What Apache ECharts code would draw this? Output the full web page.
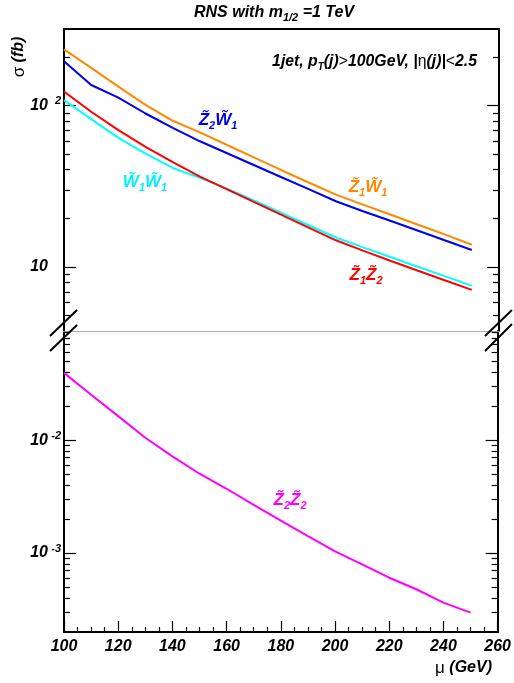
<!DOCTYPE html>
<html>
<head>
<meta charset="utf-8">
<script src="https://cdn.jsdelivr.net/npm/echarts@6/dist/echarts.min.js"></script>
<style>html,body{margin:0;padding:0;background:#fff;}#c{width:514px;height:683px;}</style>
</head>
<body>
<div id="c"></div>
<script>
// ---- data ----
const mu = [100,110,120,130,140,150,160,170,180,190,200,210,220,230,240,250];
const z1w1 = [223,171,131,101,80.4,68.2,56.9,47.5,39.7,33.3,28.0,24.3,21.1,18.3,15.9,13.7];
const z2w1 = [188,134,112,89.2,72.6,60,50.6,42.6,35.9,30.3,25.5,22.1,19.3,16.8,14.6,12.7];
const z1z2 = [122,91.4,70.3,55.4,44.6,36.2,30.2,25.2,21.0,17.5,14.6,12.6,10.9,9.48,8.26,7.19];
const w1w1 = [108,82.3,63,50.3,41,35.6,30.5,25.7,21.6,18.1,15.2,13.2,11.5,10.0,8.75,7.62];
const z2z2 = [0.0394,0.0252,0.0163,0.0105,0.00718,0.00504,0.00371,0.00267,0.00194,0.00141,0.001035,0.000794,0.000605,0.000478,0.000364,0.000297];
const xTicks = [100,120,140,160,180,200,220,240,260];
const topMajor = [10,100];
const topMinor = [5,6,7,8,9,20,30,40,50,60,70,80,90,200];
const botMajor = [0.001,0.01];
const botMinor = [0.0003,0.0004,0.0005,0.0006,0.0007,0.0008,0.0009,0.002,0.003,0.004,0.005,0.006,0.007,0.008,0.009,0.02,0.03,0.04,0.05,0.06,0.07,0.08,0.09];
const topRange = [4, 298];
const botRange = [0.0002, 0.0925];

const FONT = 'Liberation Sans';
const pairs = (ys) => mu.map((m,i) => [m, ys[i]]);

function yLabel(v){
  const e = Math.round(Math.log10(v));
  if (e === 1) return '{b|10}{p| }';
  return '{b|10}{p|' + e + '}';
}
const yRich = {
  b:{fontFamily:FONT,fontWeight:'bold',fontStyle:'italic',fontSize:16,lineHeight:20,color:'#000'},
  p:{fontFamily:FONT,fontWeight:'bold',fontStyle:'italic',fontSize:11,lineHeight:20,verticalAlign:'top',width:13,align:'right',color:'#000'}
};

function yAx(grid, pos, range, vals, len, line, labels){
  return {
    type:'log', gridIndex:grid, position:pos, min:range[0], max:range[1], logBase:10,
    axisLine:{show:line, onZero:false, lineStyle:{color:'#000',width:2}},
    axisTick:{show:true, inside:true, length:len, customValues:vals, lineStyle:{color:'#000',width:1.2}},
    minorTick:{show:false}, splitLine:{show:false}, minorSplitLine:{show:false},
    axisLabel: labels ? {show:true, customValues:vals, margin:3, formatter:yLabel, rich:yRich} : {show:false}
  };
}
function xFrame(grid, pos, color, width){
  return {type:'value', gridIndex:grid, position:pos, min:100, max:260,
    axisLine:{show:true,onZero:false,lineStyle:{color:color,width:width}},
    axisTick:{show:false}, axisLabel:{show:false}, splitLine:{show:false}};
}

const T = {fontFamily:FONT,fontWeight:'bold',fontStyle:'italic'};
function lab(text, x, y, color, size){
  return {type:'text', x:x, y:y, style:{text:text, align:'center', verticalAlign:'middle', fill:color,
    rich:{a:Object.assign({fontSize:size||17,fill:color,lineHeight:22},T),
          s:Object.assign({fontSize:11,fill:color,lineHeight:22,verticalAlign:'bottom'},T)}}};
}
function slash(x1,y1,x2,y2){
  return {type:'line', shape:{x1:x1,y1:y1,x2:x2,y2:y2}, style:{stroke:'#000',lineWidth:2}, z:100};
}

const chart = echarts.init(document.getElementById('c'), null, {renderer:'canvas'});
chart.setOption({
  animation:false,
  backgroundColor:'#fff',
  grid:[
    {left:64, width:435, top:29, height:302, show:false},
    {left:64, width:435, top:331, height:301, show:false}
  ],
  xAxis:[
    xFrame(0,'top','#000',2),
    xFrame(0,'bottom','#aaaaaa',1),
    xFrame(1,'top','#aaaaaa',1),
    {type:'value', gridIndex:1, position:'bottom', min:100, max:260, interval:20,
     axisLine:{show:true,onZero:false,lineStyle:{color:'#000',width:2}},
     axisTick:{show:true,inside:true,length:11,lineStyle:{color:'#000',width:1.2}},
     minorTick:{show:true,splitNumber:4,length:5,lineStyle:{color:'#000',width:1.2}},
     splitLine:{show:false},
     axisLabel:{show:true,margin:7,color:'#000',fontFamily:FONT,fontWeight:'bold',fontStyle:'italic',fontSize:16,
       customValues:xTicks}}
  ],
  yAxis:[
    yAx(0,'left',topRange,topMajor,12,true,true),
    yAx(0,'left',topRange,topMinor,6,false,false),
    yAx(0,'right',topRange,topMajor,12,true,false),
    yAx(0,'right',topRange,topMinor,6,false,false),
    yAx(1,'left',botRange,botMajor,12,true,true),
    yAx(1,'left',botRange,botMinor,6,false,false),
    yAx(1,'right',botRange,botMajor,12,true,false),
    yAx(1,'right',botRange,botMinor,6,false,false)
  ],
  series:[
    {type:'line', name:'z1w1', xAxisIndex:0, yAxisIndex:0, data:pairs(z1w1), symbol:'none', lineStyle:{color:'#ff8800',width:2}},
    {type:'line', name:'z2w1', xAxisIndex:0, yAxisIndex:0, data:pairs(z2w1), symbol:'none', lineStyle:{color:'#0000f0',width:2}},
    {type:'line', name:'w1w1', xAxisIndex:0, yAxisIndex:0, data:pairs(w1w1), symbol:'none', lineStyle:{color:'#00ffff',width:2}},
    {type:'line', name:'z1z2', xAxisIndex:0, yAxisIndex:0, data:pairs(z1z2), symbol:'none', lineStyle:{color:'#ff0000',width:2}},
    {type:'line', name:'z2z2', xAxisIndex:3, yAxisIndex:4, data:pairs(z2z2), symbol:'none', lineStyle:{color:'#ff00ff',width:2}}
  ],
  graphic:[
    {type:'text', x:194, y:13, style:{text:'{a|RNS with m}{s|1/2}{a| =1 TeV}', align:'left', verticalAlign:'middle',
      rich:{a:Object.assign({fontSize:16,fill:'#000',lineHeight:20},T), s:Object.assign({fontSize:11,fill:'#000',lineHeight:20,verticalAlign:'bottom'},T)}}},
    {type:'text', x:19, y:57, rotation:Math.PI/2, style:{text:'{g|σ}{a| (fb)}', align:'center', verticalAlign:'middle',
      rich:{g:{fontFamily:FONT,fontSize:17,fill:'#000'}, a:Object.assign({fontSize:16,fill:'#000'},T)}}},
    {type:'text', x:492, y:668, style:{text:'{g|μ}{a| (GeV)}', align:'right', verticalAlign:'middle',
      rich:{g:{fontFamily:FONT,fontSize:17,fill:'#000'}, a:Object.assign({fontSize:16,fill:'#000'},T)}}},
    {type:'text', x:477, y:62, style:{text:'{a|1jet, p}{s|T}{a|(j)}{g|>}{a|100GeV, |}{g|η}{a|(j)|}{g|<}{a|2.5}', align:'right', verticalAlign:'middle',
      rich:{a:Object.assign({fontSize:15.8,fill:'#000',lineHeight:20},T), s:Object.assign({fontSize:10,fill:'#000',lineHeight:20,verticalAlign:'bottom'},T),
            g:{fontFamily:FONT,fontSize:15.8,fill:'#000',lineHeight:20}}}},
    lab('{a|Z\u0303}{s|2}{a|W\u0303}{s|1}', 218, 120, '#0000f0'),
    lab('{a|W\u0303}{s|1}{a|W\u0303}{s|1}', 145, 182, '#00f0ff'),
    lab('{a|Z\u0303}{s|1}{a|W\u0303}{s|1}', 368, 187, '#ff8800'),
    lab('{a|Z\u0303}{s|1}{a|Z\u0303}{s|2}', 366, 275, '#ff0000'),
    lab('{a|Z\u0303}{s|2}{a|Z\u0303}{s|2}', 290, 500, '#ff00ff'),
    slash(50,336,77,310), slash(50,351,77,325),
    slash(485,336,512,310), slash(485,351,512,324)
  ]
});
</script>
</body>
</html>
